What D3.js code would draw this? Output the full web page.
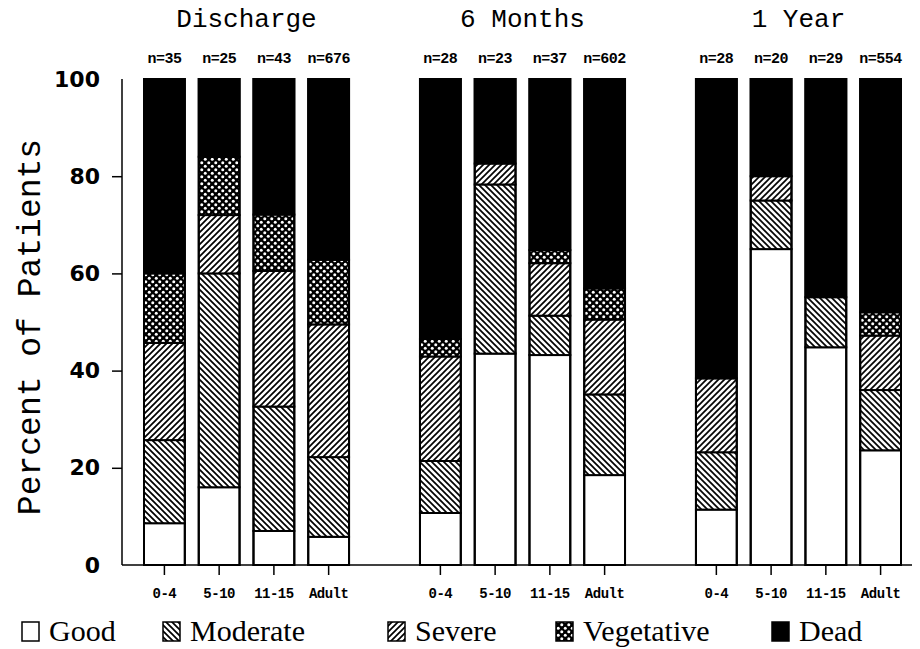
<!DOCTYPE html>
<html>
<head>
<meta charset="utf-8">
<script src="https://cdn.jsdelivr.net/npm/d3@7"></script>
<style>
  html, body { margin: 0; padding: 0; background: #fff; }
  svg { display: block; }
</style>
</head>
<body>
<svg id="chart" width="920" height="649"></svg>
<script>
// ---------- data ----------
const groups = ["Discharge", "6 Months", "1 Year"];
const categories = ["0-4", "5-10", "11-15", "Adult"];
const outcomes = ["Good", "Moderate", "Severe", "Vegetative", "Dead"];
const nLabels = [
  ["n=35", "n=25", "n=43", "n=676"],
  ["n=28", "n=23", "n=37", "n=602"],
  ["n=28", "n=20", "n=29", "n=554"]
];
// percent of patients per outcome: [Good, Moderate, Severe, Vegetative, Dead]
const dischargeValues = [
  [8.6, 17.1, 20.0, 14.3, 40.0],
  [16.0, 44.0, 12.0, 12.0, 16.0],
  [7.0, 25.6, 27.9, 11.6, 27.9],
  [5.8, 16.4, 27.3, 13.3, 37.2]
];
const sixMonthValues = [
  [10.7, 10.7, 21.5, 3.6, 53.5],
  [43.5, 34.8, 4.3, 0.0, 17.4],
  [43.2, 8.1, 10.8, 2.7, 35.2],
  [18.5, 16.6, 15.4, 6.4, 43.1]
];
const oneYearValues = [
  [11.4, 11.8, 15.2, 0.0, 61.6],
  [65.0, 10.0, 5.0, 0.0, 20.0],
  [44.8, 10.3, 0.0, 0.0, 44.9],
  [23.6, 12.4, 11.2, 4.8, 48.0]
];
const yTicks = [0, 20, 40, 60, 80, 100];
const allValues = [dischargeValues, sixMonthValues, oneYearValues];

// ---------- layout ----------
const svg = d3.select("#chart");
const y0 = 565, y100 = 79;
const axisX = 122;
const y = d3.scaleLinear().domain([0, 100]).range([y0, y100]);
const xGroup = d3.scaleBand().domain(groups).range([144, 901]).paddingInner(0.257).paddingOuter(0);
const xCat = d3.scaleBand().domain(categories).range([0, xGroup.bandwidth()]).paddingInner(0.2545).paddingOuter(0);

// ---------- patterns ----------
const defs = svg.append("defs");
const pMod = defs.append("pattern").attr("id", "pMod").attr("patternUnits", "userSpaceOnUse")
  .attr("width", 6).attr("height", 6);
pMod.append("rect").attr("width", 6).attr("height", 6).attr("fill", "#fff");
pMod.append("path").attr("d", "M-1,5 L1,7 M0,0 L6,6 M5,-1 L7,1")
  .attr("stroke", "#000").attr("stroke-width", 1.7);
const pSev = defs.append("pattern").attr("id", "pSev").attr("patternUnits", "userSpaceOnUse")
  .attr("width", 6).attr("height", 6);
pSev.append("rect").attr("width", 6).attr("height", 6).attr("fill", "#fff");
pSev.append("path").attr("d", "M-1,1 L1,-1 M0,6 L6,0 M5,7 L7,5")
  .attr("stroke", "#000").attr("stroke-width", 1.7);
const pVeg = defs.append("pattern").attr("id", "pVeg").attr("patternUnits", "userSpaceOnUse")
  .attr("width", 7).attr("height", 7);
pVeg.append("rect").attr("width", 7).attr("height", 7).attr("fill", "#000");
pVeg.append("circle").attr("cx", 1.75).attr("cy", 1.75).attr("r", 1.5).attr("fill", "#fff");
pVeg.append("circle").attr("cx", 5.25).attr("cy", 5.25).attr("r", 1.5).attr("fill", "#fff");

const fills = { Good: "#fff", Moderate: "url(#pMod)", Severe: "url(#pSev)", Vegetative: "url(#pVeg)", Dead: "#000" };

// ---------- bars ----------
const stack = d3.stack().keys(d3.range(outcomes.length));
groups.forEach((g, gi) => {
  const vals = allValues[gi];
  const series = stack(vals);
  const gx = xGroup(g);
  const gg = svg.append("g").attr("transform", `translate(${gx},0)`);
  series.forEach((s, si) => {
    gg.selectAll(null).data(s.map((d, ci) => ({ d, ci })).filter(o => o.d[1] - o.d[0] > 0))
      .enter().append("rect")
      .attr("x", o => xCat(categories[o.ci]))
      .attr("width", xCat.bandwidth())
      .attr("y", o => y(o.d[1]))
      .attr("height", o => y(o.d[0]) - y(o.d[1]))
      .attr("fill", fills[outcomes[si]])
      .attr("stroke", "#000").attr("stroke-width", 2);
  });
  // outline
  gg.selectAll(null).data(categories).enter().append("rect")
    .attr("x", c => xCat(c)).attr("width", xCat.bandwidth())
    .attr("y", y(100)).attr("height", y(0) - y(100))
    .attr("fill", "none").attr("stroke", "#000").attr("stroke-width", 2);
  // n labels
  gg.selectAll(null).data(categories).enter().append("text")
    .attr("x", c => xCat(c) + xCat.bandwidth() / 2)
    .attr("y", 63)
    .attr("text-anchor", "middle")
    .attr("font-family", "'Liberation Mono', monospace")
    .attr("font-weight", "bold")
    .attr("font-size", 15)
    .attr("letter-spacing", -0.5)
    .text((c, ci) => nLabels[gi][ci]);
  // group title
  svg.append("text")
    .attr("x", gx + xGroup.bandwidth() / 2)
    .attr("y", 27)
    .attr("text-anchor", "middle")
    .attr("font-family", "'Liberation Mono', monospace")
    .attr("font-size", 26)
    .text(g);
  // x ticks and labels
  gg.selectAll(null).data(categories).enter().append("line")
    .attr("x1", c => xCat(c) + xCat.bandwidth() / 2)
    .attr("x2", c => xCat(c) + xCat.bandwidth() / 2)
    .attr("y1", y0).attr("y2", y0 + 10)
    .attr("stroke", "#000").attr("stroke-width", 1.5);
  gg.selectAll(null).data(categories).enter().append("text")
    .attr("x", c => xCat(c) + xCat.bandwidth() / 2)
    .attr("y", 598)
    .attr("text-anchor", "middle")
    .attr("font-family", "'Liberation Mono', monospace")
    .attr("font-weight", "bold")
    .attr("font-size", 14)
    .attr("letter-spacing", -0.5)
    .text(c => c);
});

// ---------- axes ----------
svg.append("line").attr("x1", axisX).attr("x2", 912).attr("y1", y0).attr("y2", y0)
  .attr("stroke", "#000").attr("stroke-width", 1.5);
const yAxis = d3.axisLeft(y).tickValues(yTicks).tickSize(10).tickPadding(10);
const ya = svg.append("g").attr("transform", `translate(${axisX},0)`).call(yAxis);
ya.select(".domain").attr("stroke", "#000").attr("stroke-width", 1.5).attr("d", `M0,${y(100)}V${y(0)}`);
ya.selectAll(".tick line").attr("stroke", "#000").attr("stroke-width", 1.5)
  .attr("display", d => (d === 0 || d === 100) ? "none" : null);
ya.selectAll(".tick text")
  .attr("font-family", "'DejaVu Sans', sans-serif")
  .attr("font-weight", "bold")
  .attr("font-size", 22)
  .attr("fill", "#000")
  .attr("x", -22);

svg.append("text")
  .attr("transform", `translate(40,${(y0 + y100) / 2 + 5}) rotate(-90)`)
  .attr("text-anchor", "middle")
  .attr("font-family", "'Liberation Mono', monospace")
  .attr("font-size", 33)
  .text("Percent of Patients");

// ---------- legend ----------
const legendX = [22, 163, 388, 556, 772];
const leg = svg.append("g");
outcomes.forEach((o, i) => {
  leg.append("rect").attr("x", legendX[i]).attr("y", 622).attr("width", 17).attr("height", 19)
    .attr("fill", fills[o]).attr("stroke", "#000").attr("stroke-width", 1.5);
  leg.append("text").attr("x", legendX[i] + 27).attr("y", 641)
    .attr("font-family", "'Liberation Serif', serif")
    .attr("font-size", 30)
    .text(o);
});
</script>
</body>
</html>
